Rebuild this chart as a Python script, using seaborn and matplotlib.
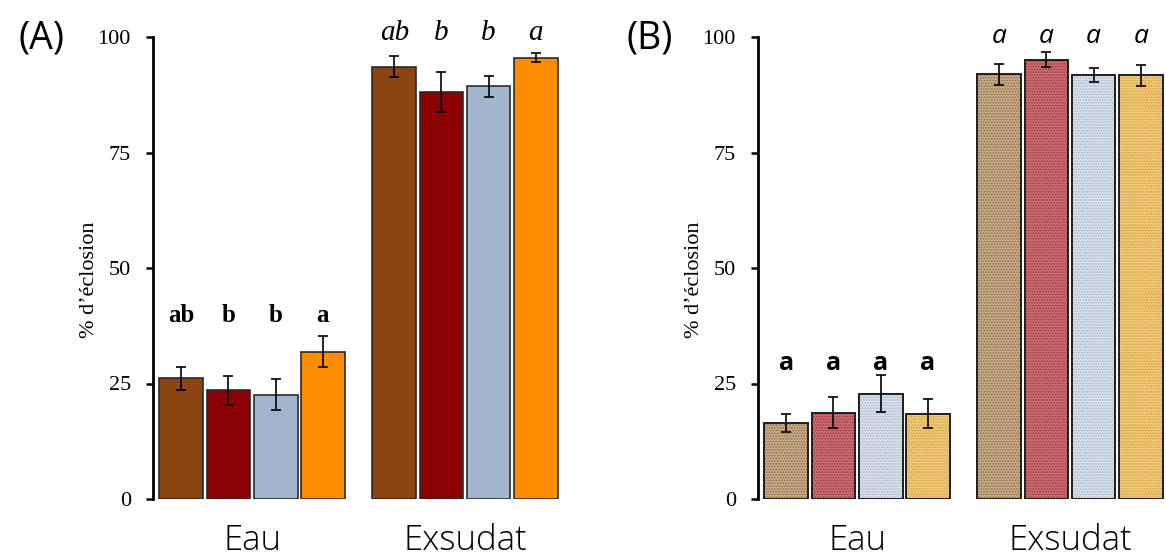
import numpy as np
import pandas as pd
import matplotlib
matplotlib.use("Agg")
import matplotlib.pyplot as plt
import seaborn as sns
from matplotlib.patches import Rectangle

# ---------------- data ----------------
groups = ["Eau", "Exsudat"]
treatments = ["T1", "T2", "T3", "T4"]

a_eau = [26.1, 23.5, 22.6, 31.9]
a_eau_se = [2.4, 3.2, 3.4, 3.4]
a_exs = [93.6, 88.1, 89.3, 95.5]
a_exs_se = [2.3, 4.3, 2.3, 1.0]

b_eau = [16.4, 18.7, 22.8, 18.5]
b_eau_se = [2.0, 3.3, 4.0, 3.2]
b_exs = [91.9, 95.1, 91.7, 91.7]
b_exs_se = [2.2, 1.7, 1.5, 2.2]

a_letters_eau = ["ab", "b", "b", "a"]
a_letters_exs = ["ab", "b", "b", "a"]
b_letters_eau = ["a", "a", "a", "a"]
b_letters_exs = ["a", "a", "a", "a"]

yticks = [0, 25, 50, 75, 100]
ylabel = "% d\u2019éclosion"

colors_a = ["#8B4513", "#8B0000", "#A2B5CD", "#FF8C00"]
colors_b = ["#C6A985", "#C96D72", "#D8E0EC", "#F0C878"]
hatch_b = ["#8A6A48", "#9A343C", "#A4B0C2", "#CF9E46"]

# ---------------- style ----------------
sns.set_style("white")
plt.rcParams["font.family"] = ["DejaVu Sans"]
plt.rcParams["hatch.linewidth"] = 0.7
plt.rcParams["text.color"] = "black"
plt.rcParams["axes.labelcolor"] = "black"
plt.rcParams["ytick.color"] = "black"
plt.rcParams["ytick.labelcolor"] = "black"

W, H = 1166, 557
fig = plt.figure(figsize=(W / 100, H / 100), dpi=100)

ax_h = (499 - 37) / H
ax_b = (H - 499) / H
axA = fig.add_axes([153 / W, ax_b, 407 / W, ax_h])
axB = fig.add_axes([758 / W, ax_b, 407 / W, ax_h])


def make_df(eau, exs):
    rows = []
    for g, vals in zip(groups, [eau, exs]):
        for t, v in zip(treatments, vals):
            rows.append({"group": g, "treat": t, "value": v})
    return pd.DataFrame(rows)


def panel(ax, eau, eau_se, exs, exs_se, colors, textured, let_eau, let_exs,
          letter_font, letter_size_eau, letter_size_exs, y_eau, y_exs):
    df = make_df(eau, exs)
    sns.barplot(data=df, x="group", y="value", hue="treat", order=groups,
                hue_order=treatments, palette=colors, saturation=1,
                width=0.885, gap=0.07, errorbar=None, edgecolor="#2a2a2a",
                linewidth=1.2, legend=False, ax=ax)
    bar_conts = list(ax.containers)
    for i, cont in enumerate(bar_conts):
        patches = list(cont)
        xs = [p.get_x() + p.get_width() / 2 for p in patches]
        ys = [p.get_height() for p in patches]
        ses = [eau_se[i], exs_se[i]]
        ax.errorbar(xs, ys, yerr=ses, fmt="none", ecolor="black",
                    elinewidth=1.2, capsize=3.3, capthick=1.2, zorder=5)
        if textured:
            for p in patches:
                p.set_hatch("......")
                p.set_edgecolor(hatch_b[i])
                p.set_linewidth(0)
                ax.add_patch(Rectangle((p.get_x(), p.get_y()), p.get_width(),
                                       p.get_height(), fill=False,
                                       edgecolor="#1e1e1e", linewidth=1.4,
                                       zorder=3))
        # significance letters
        ax.text(xs[0], y_eau, let_eau[i], ha="center", va="baseline",
                fontsize=letter_size_eau, fontweight="bold",
                family=letter_font, color="black", clip_on=False)
        ax.text(xs[1], y_exs, let_exs[i], ha="center", va="baseline",
                fontsize=letter_size_exs, fontstyle="italic",
                family=letter_font, color="black", clip_on=False)

    ax.set_xlim(-0.465, 1.446)
    ax.set_ylim(0, 100)
    ax.set_yticks(yticks)
    ax.set_yticklabels([str(t) for t in yticks], family="Liberation Serif",
                       fontsize=16, color="black")
    ax.tick_params(axis="y", direction="out", length=5, width=1.8, pad=11,
                   color="black", left=True)
    ax.tick_params(axis="x", length=0, labelbottom=False)
    ax.set_xlabel("")
    ax.set_ylabel(ylabel, family="Liberation Serif", fontsize=16,
                  color="black")
    ax.yaxis.label.set_va("center")
    ax.yaxis.set_label_coords(-0.157, 0.474)
    for s in ["top", "right", "bottom"]:
        ax.spines[s].set_visible(False)
    ax.spines["left"].set_color("black")
    ax.spines["left"].set_linewidth(2.0)
    # group labels
    for k, g in enumerate(groups):
        yb = -0.110 if g == "Eau" else -0.111
        ax.text(k, yb, g, transform=ax.get_xaxis_transform(), ha="center",
                va="baseline", fontsize=25, family="Open Sans",
                fontweight="light", color="black", clip_on=False)


panel(axA, a_eau, a_eau_se, a_exs, a_exs_se, colors_a, False,
      a_letters_eau, a_letters_exs, "Liberation Serif", 18, 21, 38.4, 99.4)
panel(axB, b_eau, b_eau_se, b_exs, b_exs_se, colors_b, True,
      b_letters_eau, b_letters_exs, "Open Sans", 18, 19, 28.0, 98.7)

fig.text(18 / W, 1 - 48 / H, "(A)", fontsize=27, family="Open Sans",
         color="black", ha="left", va="baseline")
fig.text(627 / W, 1 - 48 / H, "(B)", fontsize=27, family="Open Sans",
         color="black", ha="left", va="baseline")

fig.savefig("out.png", dpi=100)
